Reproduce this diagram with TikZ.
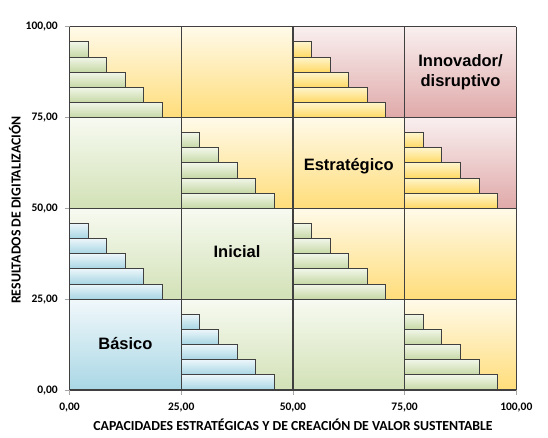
\documentclass[tikz,border=0pt]{standalone}
\usepackage{fontspec}
\setmainfont{Carlito}
\newfontfamily\labfont{Liberation Sans}
\definecolor{yT}{HTML}{FFFAE9}
\definecolor{yB}{HTML}{FFDD7A}
\definecolor{gT}{HTML}{F7FAF1}
\definecolor{gB}{HTML}{D2E1B6}
\definecolor{bT}{HTML}{F1F8FB}
\definecolor{bB}{HTML}{A9D7E5}
\definecolor{rT}{HTML}{F9EFEF}
\definecolor{rB}{HTML}{E0A9A9}
\definecolor{gbT}{HTML}{F1F6E8}
\definecolor{gbB}{HTML}{C6D8A5}
\definecolor{bbT}{HTML}{EBF6FA}
\definecolor{bbB}{HTML}{A7D5E3}
\definecolor{ybT}{HTML}{FFF5CC}
\definecolor{ybB}{HTML}{FFD964}
\definecolor{edge}{HTML}{404040}
\definecolor{tickc}{HTML}{A6A6A6}
\newcommand\cellbg[3]{%
  \path[#3] ({69.5+#1*111.7},{390-(#2+1)*90.8}) rectangle ({69.5+(#1+1)*111.7},{390-#2*90.8});}
\newcommand\cellbars[3]{%
  \foreach \k in {0,...,4}{%
    \path[#3,draw=edge,line width=1pt] ({69.5+#1*111.7},{390-#2*90.8-\k*90.8/6}) rectangle ({69.5+#1*111.7+(5-\k)*111.7/6},{390-#2*90.8-(\k+1)*90.8/6});}}
\begin{document}
\begin{tikzpicture}[x=1pt,y=-1pt,
  ybg/.style={top color=yT,bottom color=yB},
  gbg/.style={top color=gT,bottom color=gB},
  bbg/.style={top color=bT,bottom color=bB},
  rbg/.style={top color=rT,bottom color=rB},
  gbar/.style={top color=gbT,bottom color=gbB},
  bbar/.style={top color=bbT,bottom color=bbB},
  ybar/.style={top color=ybT,bottom color=ybB},
  ticklab/.style={font=\fontsize{11.5}{13}\selectfont\bfseries,text=black,inner sep=0pt},
  axtitle/.style={font=\fontsize{13.8}{16}\selectfont\bfseries,text=black,inner sep=0pt},
  celllab/.style={font=\labfont\fontsize{16.5}{20}\selectfont\bfseries,text=black,align=center,inner sep=0pt}]
\useasboundingbox (0,0) rectangle (548,438);
\fill[white] (0,0) rectangle (548,438);
% backgrounds
\cellbg{0}{0}{bbg}
\cellbg{1}{0}{gbg}
\cellbg{2}{0}{gbg}
\cellbg{3}{0}{ybg}
\cellbg{0}{1}{gbg}
\cellbg{1}{1}{gbg}
\cellbg{2}{1}{ybg}
\cellbg{3}{1}{ybg}
\cellbg{0}{2}{gbg}
\cellbg{1}{2}{ybg}
\cellbg{2}{2}{ybg}
\cellbg{3}{2}{rbg}
\cellbg{0}{3}{ybg}
\cellbg{1}{3}{ybg}
\cellbg{2}{3}{rbg}
\cellbg{3}{3}{rbg}
% bars
\cellbars{1}{0}{bbar}
\cellbars{3}{0}{gbar}
\cellbars{0}{1}{bbar}
\cellbars{2}{1}{gbar}
\cellbars{1}{2}{gbar}
\cellbars{3}{2}{ybar}
\cellbars{0}{3}{gbar}
\cellbars{2}{3}{ybar}
% ticks
\foreach \i in {0,...,4}{
  \draw[tickc,line width=0.8pt] ({69.5+\i*111.7},390) -- ({69.5+\i*111.7},395);
  \draw[tickc,line width=0.8pt] (64.5,{390-\i*90.8}) -- (69.5,{390-\i*90.8});
}
% grid
\foreach \i in {0,...,4}{
  \draw[edge,line width=1.3pt] ({69.5+\i*111.7},26.8) -- ({69.5+\i*111.7},390);
  \draw[edge,line width=1.3pt] (69.5,{390-\i*90.8}) -- (516.3,{390-\i*90.8});
}
% tick labels
\node[ticklab] (xt0) at (69.5,408) {0,00};
\node[ticklab] (xt1) at (181.2,408) {25,00};
\node[ticklab] (xt2) at (292.9,408) {50,00};
\node[ticklab] (xt3) at (404.6,408) {75,00};
\node[ticklab] (xt4) at (516.3,408) {100,00};
\node[ticklab,anchor=east] (yt0) at (58,391) {0,00};
\node[ticklab,anchor=east] (yt1) at (58,300) {25,00};
\node[ticklab,anchor=east] (yt2) at (58,209) {50,00};
\node[ticklab,anchor=east] (yt3) at (58,118) {75,00};
\node[ticklab,anchor=east] (yt4) at (58,27) {100,00};
% axis titles
\node[axtitle] (xtitle) at (293,425) {CAPACIDADES ESTRATÉGICAS Y DE CREACIÓN DE VALOR SUSTENTABLE};
\node[axtitle,rotate=90] (ytitle) at (15,210) {RESULTADOS DE DIGITALIZACIÓN};
% cell labels
\node[celllab] (basico) at (125.4,344) {Básico};
\node[celllab] (inicial) at (237,252) {Inicial};
\node[celllab] (estrat) at (348.7,166) {Estratégico};
\node[celllab] (innov) at (460.5,72) {Innovador/\\disruptivo};
\end{tikzpicture}
\end{document}
